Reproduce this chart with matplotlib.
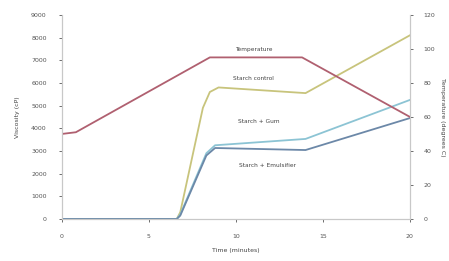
import matplotlib
matplotlib.use("Agg")
import matplotlib.pyplot as plt

# Data
temp_time = [0, 0.8, 8.5, 13.8, 20]
temp_vals = [50, 51, 95, 95, 60]

visc_time = [0, 6.6, 6.8, 8.1, 8.5, 9.0, 14.0, 20.0]
control = [0, 0, 300, 4900, 5600, 5800, 5550, 8100]
blue_time = [0, 6.6, 6.8, 8.3, 8.8, 14.0, 20.0]
series2 = [0, 0, 200, 2900, 3250, 3530, 5250]
series3 = [0, 0, 150, 2800, 3130, 3040, 4450]

names = ["Temperature", "Starch control", "Starch + Gum", "Starch + Emulsifier"]

xticks = [0, 5, 10, 15, 20]
yticks_left = list(range(0, 9001, 1000))
yticks_right = list(range(0, 121, 20))

fig = plt.figure(figsize=(4.49, 2.61), dpi=100)
ax = fig.add_axes([0.138, 0.161, 0.775, 0.782])
ax2 = ax.twinx()

ax.plot(visc_time, control, color="#c8c47c", lw=1.3)
ax.plot(blue_time, series2, color="#8cc4d4", lw=1.3)
ax.plot(blue_time, series3, color="#6c88a8", lw=1.3)
ax2.plot(temp_time, temp_vals, color="#b06070", lw=1.3)

ax.set_xlim(0, 20)
ax.set_ylim(0, 9000)
ax2.set_ylim(0, 120)
ax.set_xticks(xticks)
ax.set_yticks(yticks_left)
ax2.set_yticks(yticks_right)

for a in (ax, ax2):
    a.spines["top"].set_visible(False)
    for s in ("left", "right", "bottom"):
        a.spines[s].set_color("#c8c8c8")
        a.spines[s].set_linewidth(0.8)
    a.tick_params(labelsize=4.5, colors="#555555", length=2, width=0.6)
ax.tick_params(axis="x", pad=9)
ax.tick_params(axis="y", pad=9)
ax2.tick_params(axis="y", pad=8)

ax.set_xlabel("Time (minutes)", fontsize=4.5, color="#444444", labelpad=6)
ax.set_ylabel("Viscosity (cP)", fontsize=4.5, color="#444444", labelpad=8)
ax2.set_ylabel("Temperature (degrees C)", fontsize=4.5, color="#444444",
               rotation=270, labelpad=7)

ax2.text(11.0, 99, names[0], fontsize=4.2, color="#444444", ha="center")
ax.text(11.0, 6150, names[1], fontsize=4.2, color="#444444", ha="center")
ax.text(11.3, 4250, names[2], fontsize=4.2, color="#444444", ha="center")
ax.text(11.8, 2300, names[3], fontsize=4.2, color="#444444", ha="center")

fig.savefig("out.png", dpi=100)
